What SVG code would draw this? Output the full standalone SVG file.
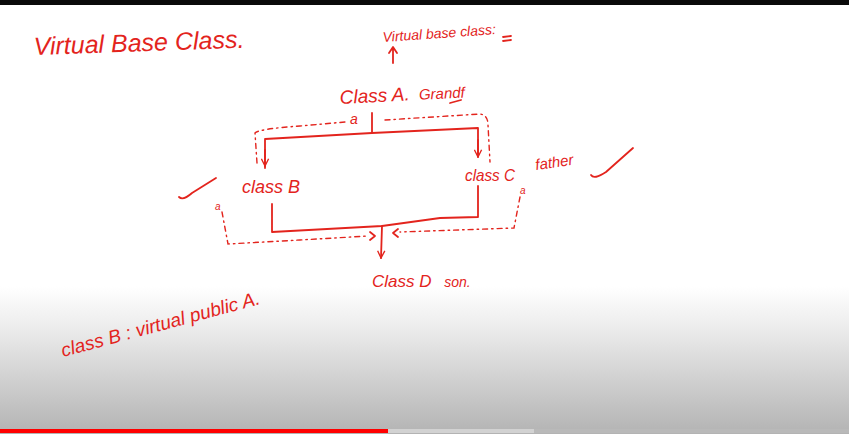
<svg xmlns="http://www.w3.org/2000/svg" width="849" height="434" viewBox="0 0 849 434">
<defs>
<linearGradient id="bg" x1="0" y1="0" x2="0" y2="1">
<stop offset="0" stop-color="#ffffff"/>
<stop offset="0.66" stop-color="#ffffff"/>
<stop offset="0.76" stop-color="#ebebeb"/>
<stop offset="1" stop-color="#b3b3b3"/>
</linearGradient>
<marker id="ah" viewBox="0 0 10 10" refX="9" refY="5" markerWidth="9" markerHeight="9" orient="auto" markerUnits="userSpaceOnUse">
<path d="M1,1 L9,5 L1,9" fill="none" stroke="#e3241d" stroke-width="1.5"/>
</marker>
</defs>
<style>
.ink{fill:none;stroke:#e3241d;stroke-width:1.8;stroke-linecap:round;stroke-linejoin:round}
.dot{fill:none;stroke:#e3241d;stroke-width:1.4;stroke-dasharray:5 4 1.5 4;stroke-linecap:round}
.t{fill:#e3241d;font-family:"Liberation Sans","DejaVu Sans",sans-serif;font-style:italic}
</style>
<rect width="849" height="434" fill="url(#bg)"/>
<rect width="849" height="5" fill="#0a0a0a"/>
<rect x="0" y="429" width="388" height="4" fill="#ff0000"/>
<rect x="388" y="429" width="146" height="4" fill="#d2d2d2"/>
<rect x="534" y="429" width="315" height="4" fill="#b9b9b9"/>

<g id="title"><text class="t" x="34" y="55" font-size="25" transform="rotate(-2 34 55)">Virtual Base Class.</text></g>

<g id="note-virtual"><text class="t" x="383" y="42" font-size="14" transform="rotate(-4 383 42)">Virtual base class:</text>
<path class="ink" d="M503,37 L511,36 M503,41 L511,40" stroke-width="1.2"/></g>

<g id="classA"><text class="t" x="340" y="104" font-size="19" transform="rotate(-3 340 104)">Class A. <tspan font-size="15" dx="4">Grandf</tspan></text>
<path class="ink" d="M450,103 L461,100" stroke-width="1.4"/></g>

<g id="classB"><text class="t" x="242" y="193" font-size="18">class B</text></g>
<g id="classC"><text class="t" x="465" y="181" font-size="17" textLength="50" lengthAdjust="spacingAndGlyphs">class C</text>
<text class="t" x="536" y="170" font-size="15" transform="rotate(-8 536 170)">father</text></g>
<g id="classD"><text class="t" x="372" y="287" font-size="17">Class D <tspan font-size="14" dx="8">son.</tspan></text></g>

<g id="note-code"><text class="t" x="63" y="357" font-size="19" transform="rotate(-15 63 357)">class B : virtual public A.</text></g>

<g id="ticks">
<path class="ink" d="M591,175 Q594,180 606,172 L633,148"/>
<path class="ink" d="M179,197 Q183,201 192,193 L216,178"/>
</g>

<g id="connectors">
<path class="ink" d="M372,113 L372,132"/>
<path class="ink" d="M265,168 L265,139 L372,133 L478,128 L478,156" />
<path class="ink" d="M265,150 L265,166" marker-end="url(#ah)"/>
<path class="ink" d="M478,140 L478,157" marker-end="url(#ah)"/>
<path class="ink" d="M272,204 L272,232 L382,226 L440,218 L478,217 L478,186"/>
<path class="ink" d="M382,226 L381,258" marker-end="url(#ah)"/>
<path class="dot" d="M257,163 L255,133 Q258,129 300,126 L345,122"/>
<path class="dot" d="M385,120 L480,114 Q488,115 488,125 L490,162"/>
<text class="t" x="350" y="124" font-size="14">a</text>
<path class="dot" d="M222,212 L228,244 L300,240 L368,236"/>
<path class="ink" d="M370,232 L375,236 L370,240" stroke-width="1.4"/>
<path class="dot" d="M520,197 L514,228 L400,232"/>
<path class="ink" d="M398,229 L393,233 L398,237" stroke-width="1.4"/>
<text class="t" x="215" y="210" font-size="10">a</text>
<text class="t" x="520" y="194" font-size="10">a</text>
<path class="ink" d="M393,63 L393,48 M389,53 L393,47 L397,53" stroke-width="1.4"/>
</g>
</svg>
